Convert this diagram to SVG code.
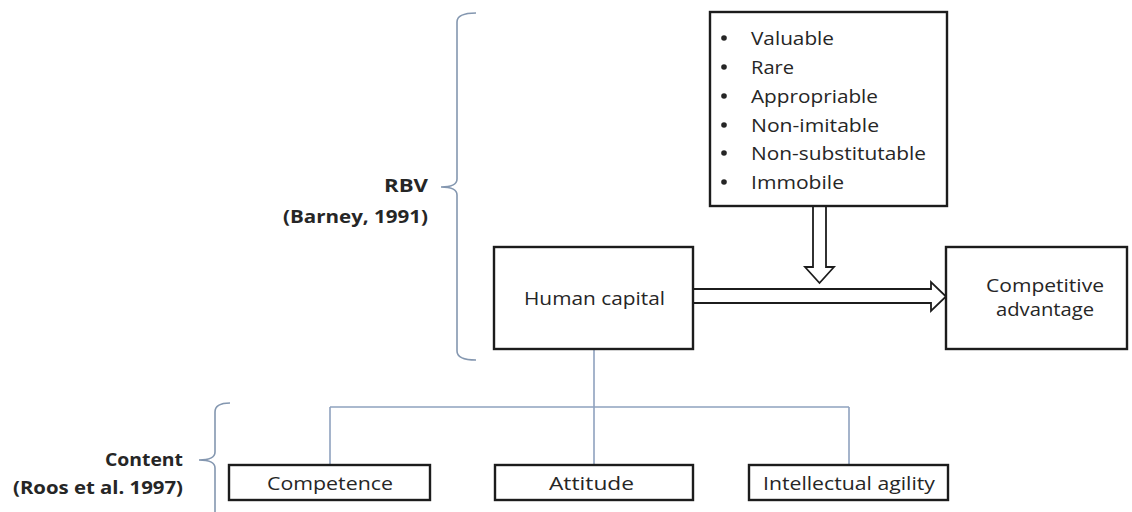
<svg xmlns="http://www.w3.org/2000/svg" width="1132" height="512" viewBox="0 0 1132 512">
<style>
.box{fill:#ffffff;stroke:#1c1c1c;stroke-width:2.4}
.t{font-family:"Open Sans","Liberation Sans",sans-serif;font-size:18px;fill:#262626}
.b{font-family:"Open Sans","Liberation Sans",sans-serif;font-size:18px;font-weight:bold;fill:#262626;text-anchor:end}
.brace{fill:none;stroke:#8497b0;stroke-width:1.6}
.conn{fill:none;stroke:#8fa2bf;stroke-width:1.6}
.arr{fill:#ffffff;stroke:#1c1c1c;stroke-width:1.8;stroke-linejoin:miter}
</style>
<rect width="1132" height="512" fill="#ffffff"/>

<g id="rbv-label">
<path class="brace" d="M476 13 Q457 13 457 22 L457 179 Q457 187 441 187 Q457 187 457 195 L457 351 Q457 360 476 360"/>
<text class="b" x="428" y="192" textLength="44" lengthAdjust="spacingAndGlyphs">RBV</text>
<text class="b" x="428" y="223" textLength="145" lengthAdjust="spacingAndGlyphs">(Barney, 1991)</text>
</g>

<g id="content-label">
<path class="brace" d="M230 403 Q215 403 215 412 L215 452 Q215 460 199 460 Q215 460 215 468 L215 512"/>
<text class="b" x="183" y="466" textLength="78" lengthAdjust="spacingAndGlyphs">Content</text>
<text class="b" x="183" y="494" textLength="170" lengthAdjust="spacingAndGlyphs">(Roos et al. 1997)</text>
</g>

<g id="connectors">
<polygon class="arr" points="813,206 826,206 826,267 834,267 819.5,283 805,267 813,267"/>
<polygon class="arr" points="693,289 931,289 931,282 946,296.5 931,311 931,303 693,303"/>
<path class="conn" d="M594 349 L594 465 M330 407 L849 407 M330 407 L330 465 M849 407 L849 465"/>
</g>

<g id="criteria">
<rect class="box" x="710" y="12" width="237" height="194"/>
<g fill="#262626">
<circle cx="724" cy="38" r="2.8"/>
<circle cx="724" cy="67" r="2.8"/>
<circle cx="724" cy="96" r="2.8"/>
<circle cx="724" cy="125" r="2.8"/>
<circle cx="724" cy="153" r="2.8"/>
<circle cx="724" cy="182" r="2.8"/>
</g>
<text class="t" x="751" y="45" textLength="83" lengthAdjust="spacingAndGlyphs">Valuable</text>
<text class="t" x="751" y="74" textLength="43" lengthAdjust="spacingAndGlyphs">Rare</text>
<text class="t" x="751" y="103" textLength="127" lengthAdjust="spacingAndGlyphs">Appropriable</text>
<text class="t" x="751" y="132" textLength="128" lengthAdjust="spacingAndGlyphs">Non-imitable</text>
<text class="t" x="751" y="160" textLength="175" lengthAdjust="spacingAndGlyphs">Non-substitutable</text>
<text class="t" x="751" y="189" textLength="93" lengthAdjust="spacingAndGlyphs">Immobile</text>
</g>

<g id="human-capital">
<rect class="box" x="494" y="247" width="199" height="102"/>
<text class="t" x="524" y="305" textLength="141" lengthAdjust="spacingAndGlyphs">Human capital</text>
</g>

<g id="competitive-advantage">
<rect class="box" x="946" y="247" width="181" height="102"/>
<text class="t" x="986" y="292" textLength="118" lengthAdjust="spacingAndGlyphs">Competitive</text>
<text class="t" x="996" y="316" textLength="98" lengthAdjust="spacingAndGlyphs">advantage</text>
</g>

<g id="competence">
<rect class="box" x="229" y="465" width="201" height="35"/>
<text class="t" x="267" y="490" textLength="126" lengthAdjust="spacingAndGlyphs">Competence</text>
</g>

<g id="attitude">
<rect class="box" x="495" y="465" width="198" height="35"/>
<text class="t" x="549" y="490" textLength="85" lengthAdjust="spacingAndGlyphs">Attitude</text>
</g>

<g id="intellectual-agility">
<rect class="box" x="749" y="465" width="199" height="35"/>
<text class="t" x="763" y="490" textLength="172" lengthAdjust="spacingAndGlyphs">Intellectual agility</text>
</g>
</svg>
